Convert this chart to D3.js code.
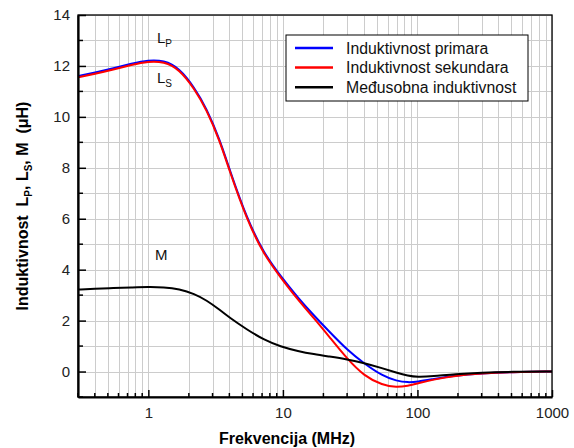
<!DOCTYPE html>
<html lang="sr">
<head>
<meta charset="utf-8">
<title>Induktivnost</title>
<script src="https://cdn.jsdelivr.net/npm/d3@7"></script>
<style>
  body { margin: 0; background: #fff; }
  text { font-family: "Liberation Sans", Arial, sans-serif; }
</style>
</head>
<body>
<div id="chart"></div>
<script>
// frequencies (MHz) shared by all three curves
var freq = [0.3, 0.4, 0.55, 0.75, 1, 1.3, 1.7, 2.2, 2.7, 3.4, 4, 5.4, 7.2, 9.6, 13, 17, 22, 30, 40, 55, 70, 85, 100, 130, 190, 300, 500, 1000];
var lp = [11.6, 11.74, 11.91, 12.09, 12.23, 12.22, 11.92, 11.15, 10.35, 9.1, 7.95, 6.0, 4.65, 3.75, 2.88, 2.2, 1.58, 0.85, 0.32, -0.17, -0.37, -0.43, -0.4, -0.3, -0.16, -0.07, -0.02, 0];
var ls = [11.55, 11.69, 11.86, 12.04, 12.18, 12.17, 11.87, 11.1, 10.3, 9.05, 7.9, 5.95, 4.6, 3.7, 2.8, 2.1, 1.38, 0.5, -0.17, -0.54, -0.62, -0.56, -0.47, -0.32, -0.16, -0.07, -0.02, 0];
var mm = [3.22, 3.25, 3.28, 3.3, 3.32, 3.31, 3.24, 3.05, 2.8, 2.42, 2.12, 1.65, 1.25, 0.98, 0.8, 0.68, 0.59, 0.48, 0.34, 0.13, -0.05, -0.17, -0.22, -0.19, -0.1, -0.04, -0.01, 0];

var seriesNames = ["Induktivnost primara", "Induktivnost sekundara", "Međusobna induktivnost"];
var seriesColors = ["#0000ff", "#ff0000", "#000000"];
var xTickLabels = [1, 10, 100, 1000];
var yTickLabels = [0, 2, 4, 6, 8, 10, 12, 14];

var W = 574, H = 448;
var x = d3.scaleLog().domain([0.3, 1000]).range([78, 552]);
var y = d3.scaleLinear().domain([-1, 14]).range([397, 15]);

var svg = d3.select("#chart").append("svg").attr("width", W).attr("height", H);

// grid: every log minor step and every integer
var xMinor = [];
[0.1, 1, 10, 100].forEach(function (dec) {
  for (var k = 1; k <= 9; k++) {
    var v = dec * k;
    if (v >= 0.3 && v <= 1000) xMinor.push(v);
  }
});
xMinor.push(1000);
var yMinor = d3.range(-1, 15);

var grid = svg.append("g").attr("stroke", "#cccccc").attr("stroke-width", 1);
grid.selectAll("line.v").data(xMinor).enter().append("line")
  .attr("x1", function (d) { return Math.round(x(d)) + 0.5; })
  .attr("x2", function (d) { return Math.round(x(d)) + 0.5; })
  .attr("y1", y(14)).attr("y2", y(-1));
grid.selectAll("line.h").data(yMinor).enter().append("line")
  .attr("y1", function (d) { return Math.round(y(d)) + 0.5; })
  .attr("y2", function (d) { return Math.round(y(d)) + 0.5; })
  .attr("x1", x(0.3)).attr("x2", x(1000));

// curves
var line = d3.line()
  .x(function (d) { return x(d[0]); })
  .y(function (d) { return y(d[1]); })
  .curve(d3.curveBasis);

[lp, ls, mm].forEach(function (vals, i) {
  svg.append("path")
    .datum(freq.map(function (f, j) { return [f, vals[j]]; }))
    .attr("fill", "none")
    .attr("stroke", seriesColors[i])
    .attr("stroke-width", 2)
    .attr("d", line);
});

// frame: thin top/right, heavier left/bottom
svg.append("rect")
  .attr("x", x(0.3)).attr("y", y(14))
  .attr("width", x(1000) - x(0.3)).attr("height", y(-1) - y(14))
  .attr("fill", "none").attr("stroke", "#000").attr("stroke-width", 1.3);

var xAxis = d3.axisBottom(x).tickValues(xTickLabels).tickFormat(d3.format("d")).tickSizeInner(-7).tickSizeOuter(0).tickPadding(10);
var gx = svg.append("g").attr("transform", "translate(0," + y(-1) + ")").call(xAxis);
gx.selectAll("line.minor").data(xMinor.filter(function (d) { return xTickLabels.indexOf(d) < 0; }))
  .enter().append("line").attr("class", "minor")
  .attr("x1", function (d) { return x(d); }).attr("x2", function (d) { return x(d); })
  .attr("y1", 0).attr("y2", -4).attr("stroke", "#000").attr("stroke-width", 1.5);

var yAxis = d3.axisLeft(y).tickValues(yTickLabels).tickSizeInner(-8).tickSizeOuter(0).tickPadding(8);
var gy = svg.append("g").attr("transform", "translate(" + x(0.3) + ",0)").call(yAxis);
gy.selectAll("line.minor").data([-1, 1, 3, 5, 7, 9, 11, 13])
  .enter().append("line").attr("class", "minor")
  .attr("y1", function (d) { return y(d); }).attr("y2", function (d) { return y(d); })
  .attr("x1", 0).attr("x2", 5).attr("stroke", "#000").attr("stroke-width", 1.5);

[gx, gy].forEach(function (g) {
  g.select(".domain").attr("stroke", "#000").attr("stroke-width", 2.2);
  g.selectAll(".tick line").attr("stroke", "#000").attr("stroke-width", 1.5);
  g.selectAll(".tick text").attr("font-size", 15).attr("fill", "#222")
    .attr("font-family", "'Liberation Sans', Arial, sans-serif");
});

// axis titles
svg.append("text").attr("x", 287).attr("y", 444).attr("text-anchor", "middle")
  .attr("font-size", 16).attr("font-weight", "bold").text("Frekvencija (MHz)");

var yt = svg.append("text").attr("transform", "translate(28,206) rotate(-90)")
  .attr("text-anchor", "middle").attr("font-size", 16).attr("font-weight", "bold")
  .style("white-space", "pre");
yt.append("tspan").text("Induktivnost  L");
yt.append("tspan").attr("font-size", 10).attr("dy", 4).text("P");
yt.append("tspan").attr("dy", -4).text(", L");
yt.append("tspan").attr("font-size", 10).attr("dy", 4).text("S");
yt.append("tspan").attr("dy", -4).text(", M  (\u03bcH)");

// curve labels
function curveLabel(px, py, main, sub) {
  var t = svg.append("text").attr("x", px).attr("y", py).attr("font-size", 15).attr("fill", "#111");
  t.append("tspan").text(main);
  if (sub) t.append("tspan").attr("font-size", 10).attr("dy", 4).text(sub);
}
curveLabel(157, 43, "L", "P");
curveLabel(157, 83, "L", "S");
curveLabel(155, 260, "M", null);

// legend
var lg = svg.append("g").attr("transform", "translate(286,35)");
lg.append("rect").attr("width", 242).attr("height", 66).attr("fill", "#fff")
  .attr("stroke", "#000").attr("stroke-width", 1);
seriesNames.forEach(function (name, i) {
  var ry = 13 + i * 19.6;
  lg.append("line").attr("x1", 9).attr("x2", 47).attr("y1", ry).attr("y2", ry)
    .attr("stroke", seriesColors[i]).attr("stroke-width", 2.5);
  lg.append("text").attr("x", 60).attr("y", ry + 5.5).attr("font-size", 15.8).attr("fill", "#111").text(name);
});
</script>
</body>
</html>
